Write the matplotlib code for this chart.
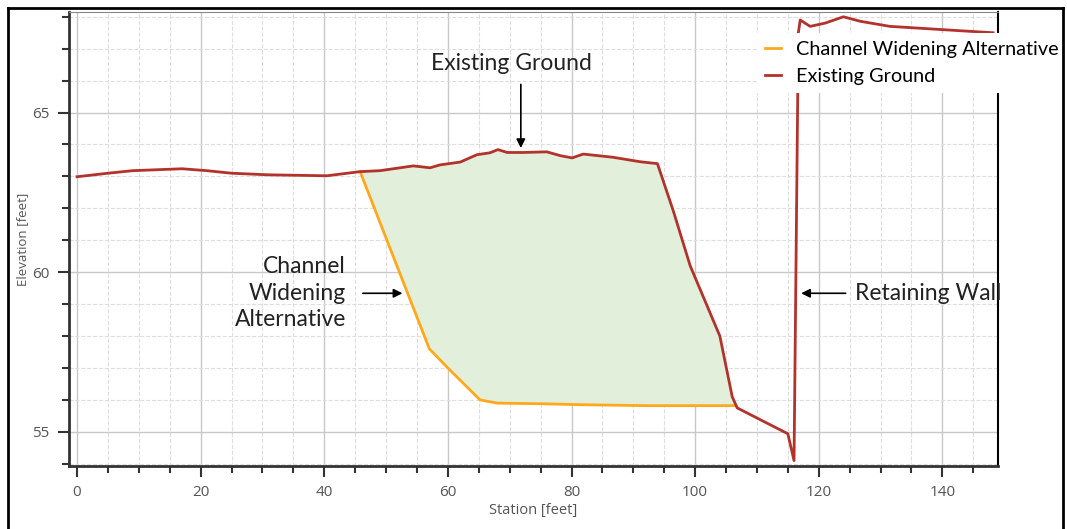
import numpy as np
import matplotlib.pyplot as plt
from matplotlib.lines import Line2D
from matplotlib.ticker import MultipleLocator

# existing ground profile (station ft, elevation ft)
ground_sta = [0, 5, 9, 17, 21, 25, 31, 40.4, 45.8, 49, 54.4, 57.1, 58.7, 62, 64.7,
              66.8, 68.1, 69.6, 72.2, 76, 78.2, 80.1, 81.9, 86.7, 91.1, 93.9, 96.5,
              99.2, 104, 106, 106.8, 115, 116, 116.7, 117, 118.6, 121, 124, 126.7,
              131.5, 148.2]
ground_elev = [62.99, 63.1, 63.18, 63.24, 63.18, 63.1, 63.05, 63.02, 63.15, 63.18,
               63.33, 63.27, 63.36, 63.45, 63.68, 63.74, 63.84, 63.75, 63.75, 63.77,
               63.65, 63.58, 63.7, 63.6, 63.46, 63.4, 61.9, 60.2, 58.0, 56.1, 55.75,
               54.94, 54.1, 67.5, 67.9, 67.7, 67.8, 68.0, 67.86, 67.7, 67.5]

# channel widening alternative
alt_sta = [45.8, 57, 60, 65.2, 68, 75, 81.4, 92.2, 106.5]
alt_elev = [63.15, 57.6, 57.0, 56.0, 55.9, 55.88, 55.85, 55.82, 55.82]

plt.rcParams['font.family'] = ['Open Sans', 'DejaVu Sans']

fig = plt.figure(figsize=(10.67, 5.29), dpi=100)
ax = fig.add_axes([69 / 1067, 1 - 466 / 529, (998 - 69) / 1067, (466 - 12) / 529])

# area between the two profiles
gs = np.array(ground_sta)
ge = np.array(ground_elev)
m = (gs > alt_sta[0]) & (gs < alt_sta[-1])
poly_x = list(alt_sta) + list(gs[m][::-1])
poly_y = list(alt_elev) + list(ge[m][::-1])
ax.fill(poly_x, poly_y, color='#e2efda', lw=0, zorder=1)

ax.plot(alt_sta, alt_elev, color='#ffa81c', lw=2, zorder=3)
ax.plot(ground_sta, ground_elev, color='#b3322b', lw=2, zorder=4)

ax.set_xlim(-1.3, 149)
ax.set_ylim(53.93, 68.15)
ax.xaxis.set_major_locator(MultipleLocator(20))
ax.xaxis.set_minor_locator(MultipleLocator(5))
ax.yaxis.set_major_locator(MultipleLocator(5))
ax.yaxis.set_minor_locator(MultipleLocator(1))
ax.grid(which='major', color='#c8c8c8', lw=1, zorder=0)
ax.grid(which='minor', color='#dedede', lw=0.8, ls='--', zorder=0)
ax.set_axisbelow(True)

ax.tick_params(which='major', length=8, width=1.5, color='#333333',
               labelsize=11, labelcolor='#555555', pad=6)
ax.tick_params(which='minor', length=5, width=1.5, color='#333333')
for s in ['left', 'bottom']:
    ax.spines[s].set_linewidth(2)
    ax.spines[s].set_color('#333333')
ax.spines['top'].set_color('#888888')
ax.spines['right'].set_color('black')
ax.spines['right'].set_linewidth(1.5)

ax.set_xlabel('Station [feet]', fontsize=10.5, color='#555555', labelpad=2)
ax.set_ylabel('Elevation [feet]', fontsize=9.5, color='#555555', labelpad=2)

# annotations
arrow = dict(arrowstyle='-|>', color='black', lw=1.2, mutation_scale=13)
ax.annotate('', xy=(71.8, 63.8), xytext=(71.8, 65.97), arrowprops=arrow, zorder=6)
ax.text(70.2, 66.55, 'Existing Ground', ha='center', va='center',
        fontsize=16.5, family='Lato', color='#222222')
ax.annotate('', xy=(53.1, 59.34), xytext=(45.8, 59.34), arrowprops=arrow, zorder=6)
ax.text(43.5, 59.34, 'Channel\nWidening\nAlternative', ha='right', va='center',
        fontsize=16.5, family='Lato', color='#222222', linespacing=1.32)
ax.annotate('', xy=(116.7, 59.34), xytext=(124.8, 59.34), arrowprops=arrow, zorder=6)
ax.text(125.9, 59.34, 'Retaining Wall', ha='left', va='center',
        fontsize=16.5, family='Lato', color='#222222')

handles = [Line2D([], [], color='#ffa81c', lw=2),
           Line2D([], [], color='#b3322b', lw=2)]
leg = fig.legend(handles, ['Channel Widening Alternative', 'Existing Ground'],
                 loc='upper left', bbox_to_anchor=(757 / 1067, 1 - 33 / 529),
                 frameon=True, fancybox=False, framealpha=1, edgecolor='none',
                 facecolor='white', prop={'family': 'Lato', 'size': 14.3},
                 handlelength=0.8, handletextpad=0.75, borderpad=0.4,
                 labelspacing=0.5, borderaxespad=0)
leg.set_zorder(10)

# screenshot border (pixel coords from top-left)
for xs, ys in [([8, 8], [529, 8]), ([8, 1063], [8, 8]), ([1063, 1063], [8, 529])]:
    fig.add_artist(Line2D([x / 1067 for x in xs], [1 - y / 529 for y in ys],
                          color='black', lw=2, zorder=20))

fig.savefig('out.png', dpi=100)
